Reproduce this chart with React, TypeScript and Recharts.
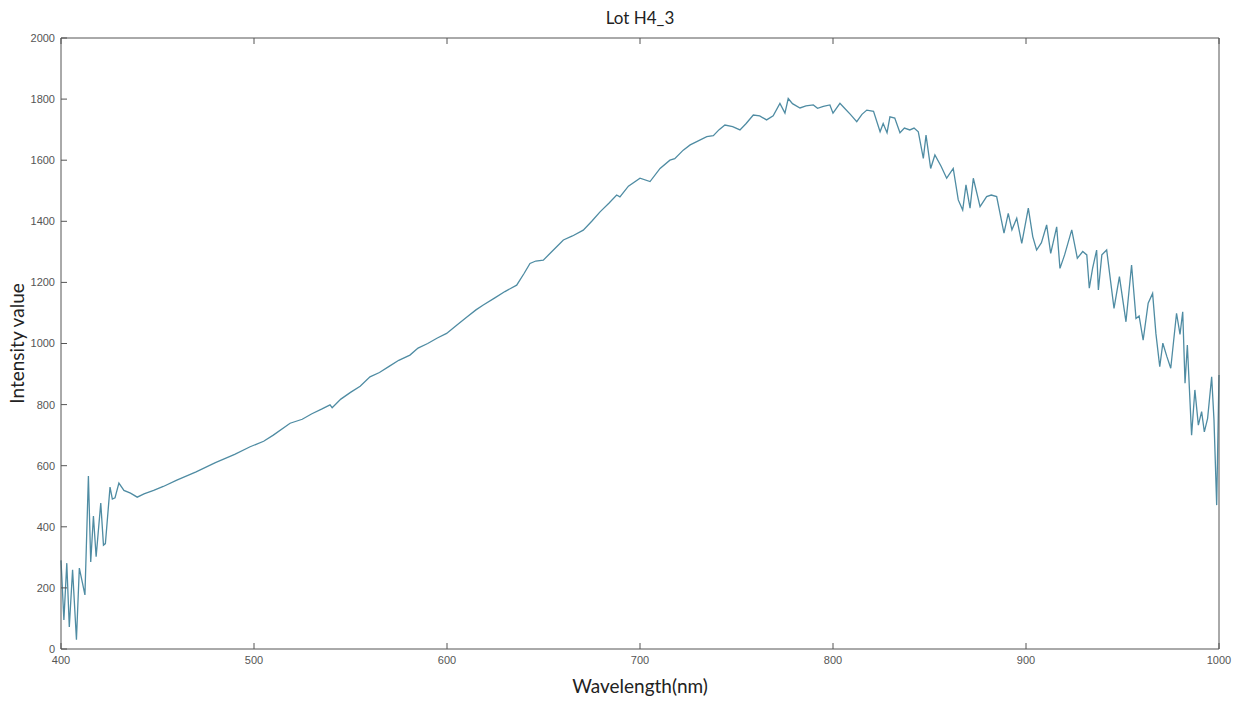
import React from 'react';
import { LineChart, Line, XAxis, YAxis } from 'recharts';

const TITLE = 'Lot H4_3';
const X_LABEL = 'Wavelength(nm)';
const Y_LABEL = 'Intensity value';

const X_TICKS = [400, 500, 600, 700, 800, 900, 1000];
const Y_TICKS = [0, 200, 400, 600, 800, 1000, 1200, 1400, 1600, 1800, 2000];

// wavelength (nm)
const WAVELENGTH = [
  400, 401.5, 403, 404.3, 406, 408, 409.5, 411, 412.4, 414.2, 415.4, 416.8, 418.2, 420.6, 422, 423,
  425.4, 426.6, 428, 430, 432.6, 436, 439.5, 443, 448, 453, 460, 470, 480, 490, 498, 505, 510,
  518.7, 525, 530, 535, 539.4, 540.5, 545, 550, 555, 560.1, 565, 570, 575, 580.8, 585, 590, 595,
  599.8, 605, 610, 615, 618.8, 625, 630, 636.1, 640, 643, 646, 649.9, 655, 660.3, 665, 670.6, 675,
  679.3, 684, 687.9, 689.6, 694, 700, 705.2, 710.4, 715.5, 718, 722.4, 726, 729.4, 734.6, 738, 741,
  744, 748, 751.8, 755, 758.7, 762, 765.6, 769, 772.5, 775.1, 776.8, 779, 782.9, 786, 789.8, 792,
  795, 798.4, 800, 803.6, 806, 809, 812.3, 815, 817.5, 821, 824.4, 826, 828, 829.5, 832, 834.7,
  837, 839.8, 842, 844.2, 846.8, 848.2, 850.6, 852.8, 856, 858.9, 862.3, 864.9, 867.2, 868.9, 871,
  872.7, 876.2, 879.6, 882, 884.8, 888.6, 890.8, 892.7, 895.2, 897.8, 901.2, 903.5, 905.5, 908,
  910.7, 912.8, 915.9, 917.6, 920, 923.7, 926.6, 929.4, 931.5, 932.8, 934.5, 936.6, 937.5, 939.3,
  941.8, 945.6, 948.4, 951.8, 954.7, 957, 958.6, 960.7, 963.3, 965.6, 967.3, 969.3, 970.9, 973,
  975, 978, 979.8, 981.2, 982.4, 983.6, 985.8, 987.5, 989.3, 991, 992.4, 994.1, 996.2, 997.4,
  998.8, 1000,
];

const INTENSITY = [
  290, 95, 281, 72, 259, 30, 265, 220, 177, 566, 285, 435, 302, 478, 340, 345,
  530, 491, 495, 543, 519, 510, 497, 508, 519, 532, 553, 580, 610, 637, 662, 680, 700,
  739, 752, 770, 785, 799, 790, 818, 840, 860, 891, 905, 925, 945, 962, 985, 1000, 1018,
  1033, 1060, 1085, 1110, 1126, 1150, 1170, 1191, 1230, 1262, 1270, 1273, 1305, 1339, 1352, 1371, 1400,
  1431, 1460, 1486, 1480, 1515, 1541, 1530, 1573, 1600, 1605, 1633, 1650, 1661, 1677, 1680, 1700,
  1715, 1710, 1699, 1720, 1748, 1745, 1732, 1745, 1786, 1754, 1802, 1785, 1771, 1778, 1781, 1770,
  1776, 1781, 1754, 1786, 1770, 1750, 1726, 1750, 1764, 1760, 1693, 1720, 1690, 1742, 1738, 1690,
  1705, 1699, 1705, 1693, 1606, 1682, 1573, 1617, 1580, 1541, 1573, 1470, 1437, 1519, 1443,
  1541, 1448, 1481, 1486, 1481, 1361, 1426, 1372, 1410, 1328, 1443, 1350, 1306, 1330,
  1388, 1295, 1382, 1246, 1290, 1372, 1279, 1301, 1290, 1181, 1246, 1306, 1175, 1290,
  1306, 1115, 1219, 1071, 1257, 1082, 1090, 1011, 1132, 1164, 1033, 924, 1001, 957,
  919, 1099, 1030, 1104, 870, 995, 700, 848, 733, 777, 711, 755, 891, 750,
  471, 897,
];

const data = WAVELENGTH.map((w, i) => ({ w, v: INTENSITY[i] }));

const AXIS_COLOR = '#555';
const TICK_LEN = 6;
const tickFont = 'Liberation Sans, Arial, sans-serif';
const labelFont = 'Lato, Calibri, sans-serif';

// MATLAB-style ticks: short marks pointing into the plot box
const BottomTick = (props: any) => {
  const { x, y, payload } = props;
  return (
    <g>
      <line x1={x} x2={x} y1={y - 7} y2={y - 7 - TICK_LEN} stroke={AXIS_COLOR} />
      <text x={x} y={y} dy="0.71em" textAnchor="middle" fill="#555" fontSize={11} fontFamily={tickFont}>
        {payload.value}
      </text>
    </g>
  );
};

const LeftTick = (props: any) => {
  const { x, y, payload } = props;
  return (
    <g>
      <line x1={x + 6} x2={x + 6 + TICK_LEN} y1={y} y2={y} stroke={AXIS_COLOR} />
      <text x={x} y={y} dy="0.355em" textAnchor="end" fill="#555" fontSize={11} fontFamily={tickFont}>
        {payload.value}
      </text>
    </g>
  );
};

const TopTick = (props: any) => {
  const { x, y } = props;
  return <line x1={x} x2={x} y1={y} y2={y + TICK_LEN} stroke={AXIS_COLOR} />;
};

const RightTick = (props: any) => {
  const { x, y } = props;
  return <line x1={x} x2={x - TICK_LEN} y1={y} y2={y} stroke={AXIS_COLOR} />;
};

export default function App() {
  return (
    <div style={{ position: 'absolute', left: 0, top: 0, width: 1242, height: 704, background: '#fff' }}>
      <LineChart width={1242} height={704} data={data} margin={{ top: 37, right: 22, bottom: 25, left: 21 }}>
        <XAxis
          xAxisId="b"
          dataKey="w"
          type="number"
          domain={[400, 1000]}
          ticks={X_TICKS}
          height={30}
          stroke={AXIS_COLOR}
          tickLine={false}
          tickSize={0}
          tickMargin={7}
          tick={<BottomTick />}
          label={{ value: X_LABEL, position: 'bottom', offset: 1, style: { fontSize: 19, fill: '#222', fontFamily: labelFont } }}
        />
        <XAxis
          xAxisId="t"
          orientation="top"
          dataKey="w"
          type="number"
          domain={[400, 1000]}
          ticks={X_TICKS}
          height={1}
          stroke={AXIS_COLOR}
          tickLine={false}
          tickSize={0}
          tickMargin={0}
          tick={<TopTick />}
          label={{ value: TITLE, position: 'top', offset: 13, style: { fontSize: 17, fill: '#222', fontFamily: labelFont } }}
        />
        <YAxis
          yAxisId="l"
          type="number"
          domain={[0, 2000]}
          ticks={Y_TICKS}
          width={40}
          stroke={AXIS_COLOR}
          tickLine={false}
          tickSize={0}
          tickMargin={6}
          tick={<LeftTick />}
          label={{ value: Y_LABEL, angle: -90, position: 'insideLeft', offset: -4, style: { textAnchor: 'middle', fontSize: 19, fill: '#222', fontFamily: labelFont } }}
        />
        <YAxis
          yAxisId="r"
          orientation="right"
          type="number"
          domain={[0, 2000]}
          ticks={Y_TICKS}
          width={1}
          stroke={AXIS_COLOR}
          tickLine={false}
          tickSize={0}
          tickMargin={0}
          tick={<RightTick />}
        />
        <Line
          xAxisId="b"
          yAxisId="l"
          type="linear"
          dataKey="v"
          stroke="#4f8ca3"
          strokeWidth={1.3}
          dot={false}
          isAnimationActive={false}
        />
      </LineChart>
    </div>
  );
}
